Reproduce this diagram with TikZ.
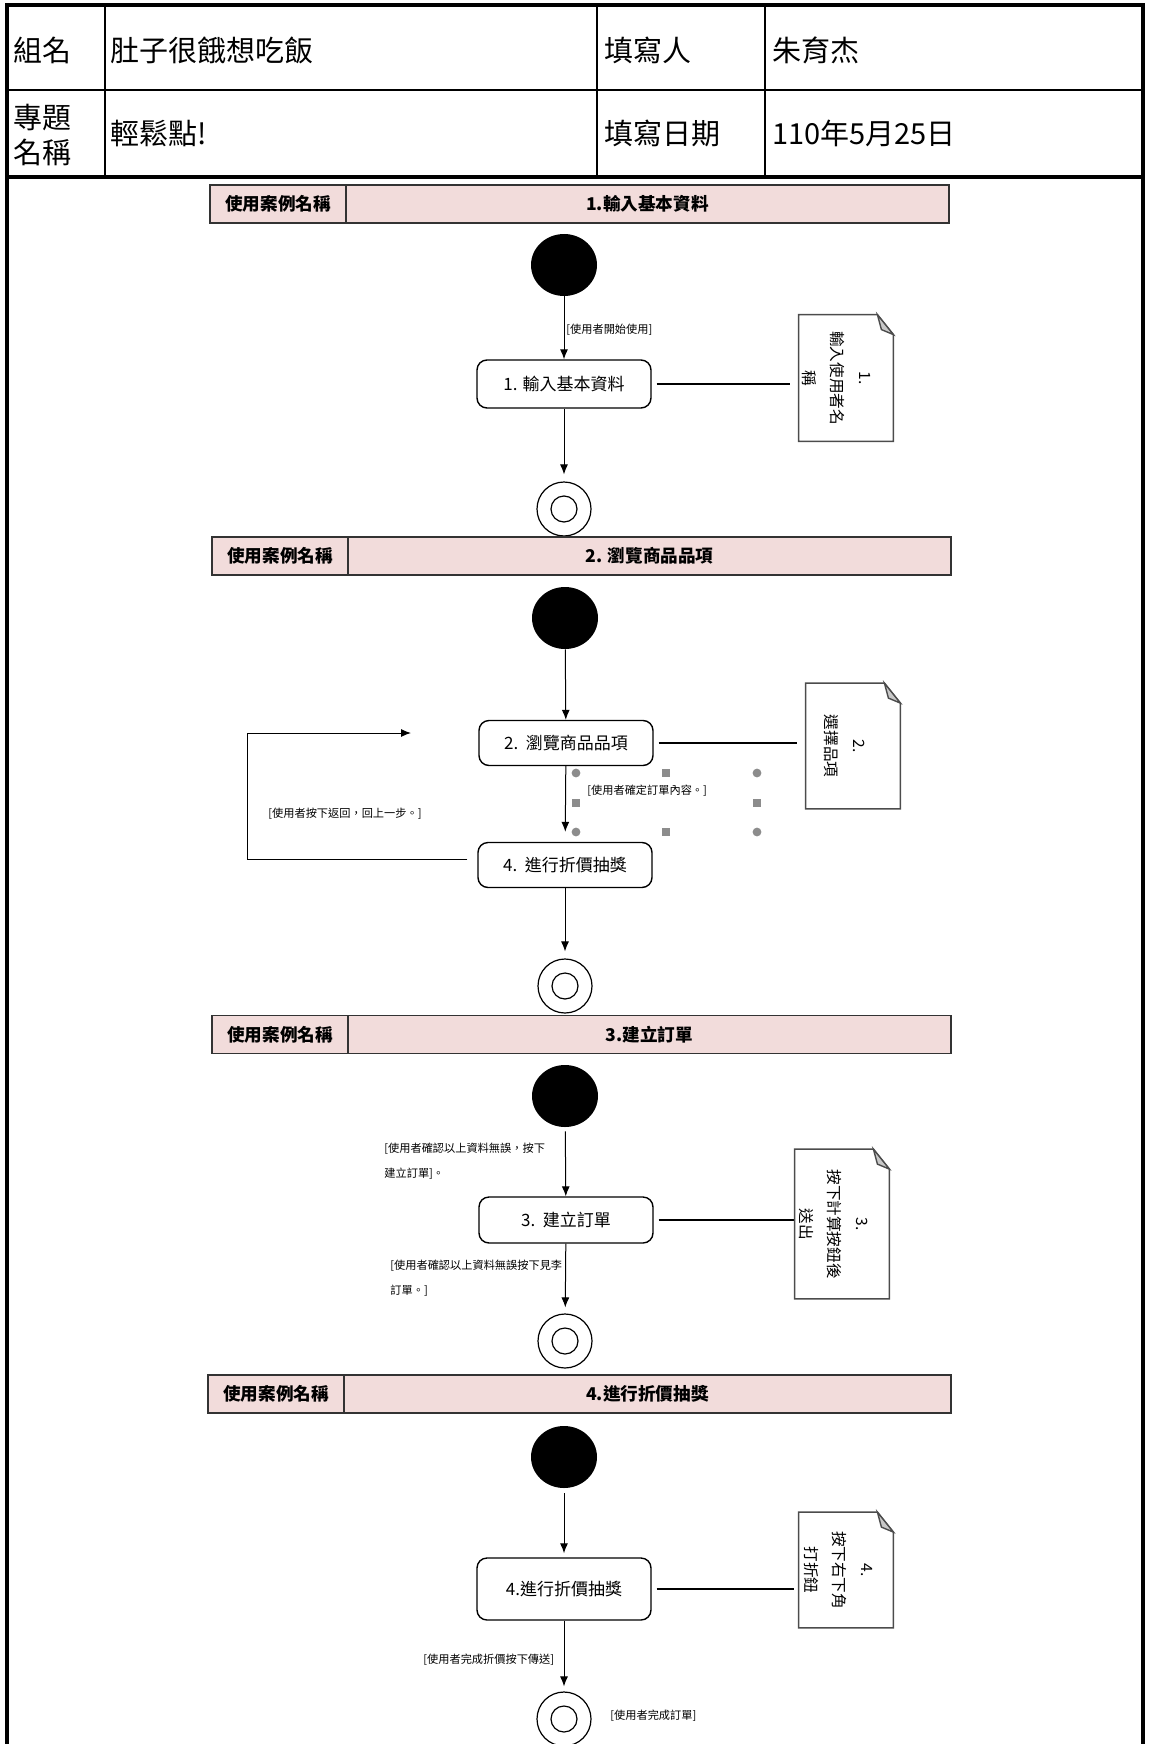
\documentclass[tikz,border=0pt]{standalone}
\usepackage{fontspec}
\setmainfont{Noto Sans CJK TC}
\usepackage{tikz}
\usetikzlibrary{positioning,arrows.meta,shapes.geometric}
\definecolor{headpink}{RGB}{242,220,219}
\definecolor{flapgray}{RGB}{200,200,200}
\definecolor{handlegray}{RGB}{140,140,140}

\begin{document}
\begin{tikzpicture}[x=0.5pt,y=-0.5pt,
  frame/.style={line width=2pt},
  rule/.style={line width=0.9pt},
  cell/.style={anchor=west,inner sep=0pt,align=left,font=\fontsize{14.5}{17.5}\selectfont},
  headl/.style={draw=black!80,line width=0.7pt,fill=headpink,outer sep=0pt,inner sep=0pt,
    minimum width=68pt,minimum height=19pt,font=\fontsize{8.8}{10}\selectfont\bfseries},
  headr/.style={headl,minimum width=301.5pt},
  startdot/.style={ellipse,fill=black,minimum width=33pt,minimum height=31pt,inner sep=0pt},
  endring/.style={circle,draw,line width=0.6pt,minimum size=27pt,inner sep=0pt,
    path picture={\draw[line width=0.6pt] (path picture bounding box.center) circle (6.5pt);}},
  action/.style={draw,line width=0.7pt,rounded corners=5pt,minimum width=87pt,minimum height=23pt,
    font=\fontsize{8.5}{10}\selectfont},
  notebox/.style={minimum width=47pt,inner sep=0pt},
  notefrm/.style={draw=black!70,line width=0.7pt},
  notetext/.style={rotate=-90,inner sep=0pt,align=center,font=\fontsize{7.8}{14}\selectfont},
  guard/.style={anchor=west,inner sep=0pt,align=left,font=\fontsize{5.6}{12.5}\selectfont},
  flow/.style={line width=0.5pt,-{Latex[length=5pt,width=4pt]}},
  link/.style={line width=0.6pt}
]
\useasboundingbox (0,0) rectangle (1148,1744);

% form table
\draw[frame] (7,1744) -- (7,5) -- (1143,5) -- (1143,1744);
\draw[frame] (7,177) -- (1143,177);
\draw[rule] (7,90) -- (1143,90);
\foreach \cx in {105,597,765} \draw[rule] (\cx,5) -- (\cx,177);

\node[cell] (grp) at (13,50) {組名};
\node[cell] (grpname) at (110,50) {肚子很餓想吃飯};
\node[cell] (writer) at (604,50) {填寫人};
\node[cell] (writername) at (772,50) {朱育杰};
\node[cell] (proj) at (13,135) {專題\\名稱};
\node[cell] (projname) at (110,133) {輕鬆點!};
\node[cell] (date) at (604,133) {填寫日期};
\node[cell] (dateval) at (772,133) {110年5月25日};

% use case 1
\node[headl] (h1a) at (278,204) {使用案例名稱};
\node[headr,right=0pt of h1a] (h1b) {1.輸入基本資料};
\node[startdot] (s1) at (564,265) {};
\node[action,minimum height=24pt] (a1) at (564,384) {1. 輸入基本資料};
\node[notebox,minimum height=63pt] (n1) at (846,378) {};
\node[notetext] (t1) at ([xshift=-5pt]n1.center) {1.\\輸入使用者名\\稱};
\node[endring] (e1) at (564,509) {};
\node[guard] (g1) at (566,330) {[使用者開始使用]};
\draw[flow] (s1) -- (a1);
\draw[flow,shorten >=3.5pt] (a1) -- (e1);
\draw[link,shorten <=2.5pt,shorten >=4.5pt] (a1.east) -- (a1.east -| n1.west);

% use case 2
\node[headl] (h2a) at (280,556) {使用案例名稱};
\node[headr,right=0pt of h2a] (h2b) {2. 瀏覽商品品項};
\node[startdot] (s2) at (565,618) {};
\node[action,minimum height=22.5pt] (a2) at (566,743) {2.\ \ 瀏覽商品品項};
\node[notebox,minimum height=62.5pt] (n2) at (853,746) {};
\node[notetext] (t2) at ([xshift=-4pt]n2.center) {2.\\選擇品項};
\node[action,minimum height=22.5pt] (a2b) at (565,865) {4.\ \ 進行折價抽獎};
\node[endring] (e2) at (565,986) {};
\node[guard] (g2) at (587,791) {[使用者確定訂單內容。]};
\node[guard] (g3) at (268,814) {[使用者按下返回，回上一步。]};
\coordinate (bk1) at (247,733);
\coordinate (bk2) at (411,733);
\draw[flow] (s2) -- (a2);
\draw[flow,shorten >=5pt] (a2) -- (a2b);
\draw[flow,shorten >=3.5pt] (a2b) -- (e2);
\draw[link,shorten <=2.5pt,shorten >=4.5pt] (a2.east) -- (a2.east -| n2.west);
\draw[flow,shorten <=5pt] ([yshift=3pt]a2b.west) -| (bk1) -- (bk2);
\foreach \hx in {576,757} \foreach \hy in {773,832}
  \fill[handlegray] (\hx,\hy) circle (2.2pt);
\foreach \hx/\hy in {666/773,666/832,576/803,757/803}
  \fill[handlegray] ([xshift=-2pt,yshift=-2pt]\hx,\hy) rectangle ++(4pt,4pt);

% use case 3
\node[headl] (h3a) at (280,1034.5) {使用案例名稱};
\node[headr,right=0pt of h3a] (h3b) {3.建立訂單};
\node[startdot] (s3) at (565,1096) {};
\node[action] (a3) at (566,1220) {3.\ \ 建立訂單};
\node[notebox,minimum height=74.5pt] (n3) at (842,1224) {};
\node[notetext] (t3) at ([xshift=-4pt]n3.center) {3.\\按下計算按鈕後\\送出};
\node[endring] (e3) at (565,1341) {};
\node[guard] (g4) at (384,1161) {[使用者確認以上資料無誤，按下\\建立訂單]。};
\node[guard] (g5) at (390,1278) {[使用者確認以上資料無誤按下見李\\訂單。]};
\draw[flow,shorten <=2pt] (s3) -- (a3);
\draw[flow,shorten >=3pt] (a3) -- (e3);
\draw[link,shorten <=2.5pt,shorten >=0.5pt] (a3.east) -- (a3.east -| n3.west);

% use case 4
\node[headl] (h4a) at (276,1394) {使用案例名稱};
\node[headr,minimum width=303.5pt,right=0pt of h4a] (h4b) {4.進行折價抽獎};
\node[startdot] (s4) at (564,1457) {};
\node[action,minimum height=31pt] (a4) at (564,1589) {4.進行折價抽獎};
\node[notebox,minimum height=57.5pt] (n4) at (846,1570) {};
\node[notetext] (t4) at ([xshift=-4pt]n4.center) {4.\\按下右下角\\打折鈕};
\node[endring] (e4) at (564,1719) {};
\node[guard] (g6) at (423,1660) {[使用者完成折價按下傳送]};
\node[guard] (g7) at (610,1716) {[使用者完成訂單]};
\draw[flow,shorten <=2.5pt,shorten >=2pt] (s4) -- (a4);
\draw[flow,shorten >=2.5pt] (a4) -- (e4);
\draw[link,shorten <=2.5pt,shorten >=2.5pt] (a4.east) -- (a4.east -| n4.west);

% note outlines with folded corner
\foreach \n in {n1,n2,n3,n4}{
  \draw[notefrm] (\n.south west) -- (\n.north west) -- ([xshift=-8pt]\n.north east)
    -- ([yshift=-10pt]\n.north east) -- (\n.south east) -- cycle;
  \filldraw[notefrm,fill=flapgray] ([xshift=-8pt]\n.north east) -- ([yshift=-10pt]\n.north east)
    -- ([xshift=-6pt,yshift=-7.5pt]\n.north east) -- cycle;
}
\end{tikzpicture}
\end{document}
